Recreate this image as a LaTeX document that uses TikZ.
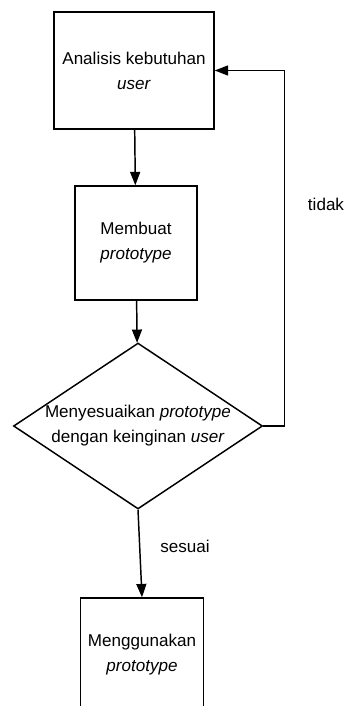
\documentclass[tikz,border=0pt]{standalone}
\usepackage{fontspec}
\setmainfont{Liberation Sans}
\usetikzlibrary{shapes.geometric,arrows.meta}

\tikzset{every picture/.style={line width=1.1pt}}
\tikzset{
  procbox/.style={draw, align=center, inner sep=0pt, font=\fontsize{12.8}{18.75}\selectfont},
  decbox/.style={draw, diamond, aspect=1.5, align=center, inner sep=0pt, font=\fontsize{12.8}{18.75}\selectfont},
  flowarr/.style={-{Triangle[length=10pt,width=7.5pt]}},
  lbl/.style={font=\fontsize{12.8}{14}\selectfont}
}

\begin{document}
\begin{tikzpicture}[x=0.75pt,y=0.75pt,yscale=-1,xscale=1]
        \useasboundingbox (0,0) rectangle (349,706);
        \clip (0,0) rectangle (349,706);
        \node[procbox, minimum width=120pt, minimum height=87.75pt] (ana) at (134,70.5) {Analisis kebutuhan\\\textit{user}};
        \node[procbox, minimum width=91.5pt, minimum height=85.5pt] (mem) at (136,243) {Membuat\\\textit{prototype}};
        \node[decbox, minimum width=186.75pt, minimum height=124.5pt] (sua) at (138,426) {Menyesuaikan \textit{prototype}\\dengan keinginan \textit{user}};
        \node[procbox, minimum width=92.25pt, minimum height=85.5pt] (gun) at (142,655) {Menggunakan\\\textit{prototype}};

        \draw[flowarr] (ana) -- (mem);
        \draw[flowarr] (mem) -- (sua);
        \draw[flowarr] (sua.east) -- ++(21,0) |- (ana.east);
        \draw[flowarr] (sua.south) -- (gun.north);

        \node[lbl] (tdk) at (326,204) {tidak};
        \node[lbl] (ssi) at (185,546) {sesuai};
\end{tikzpicture}
\end{document}
